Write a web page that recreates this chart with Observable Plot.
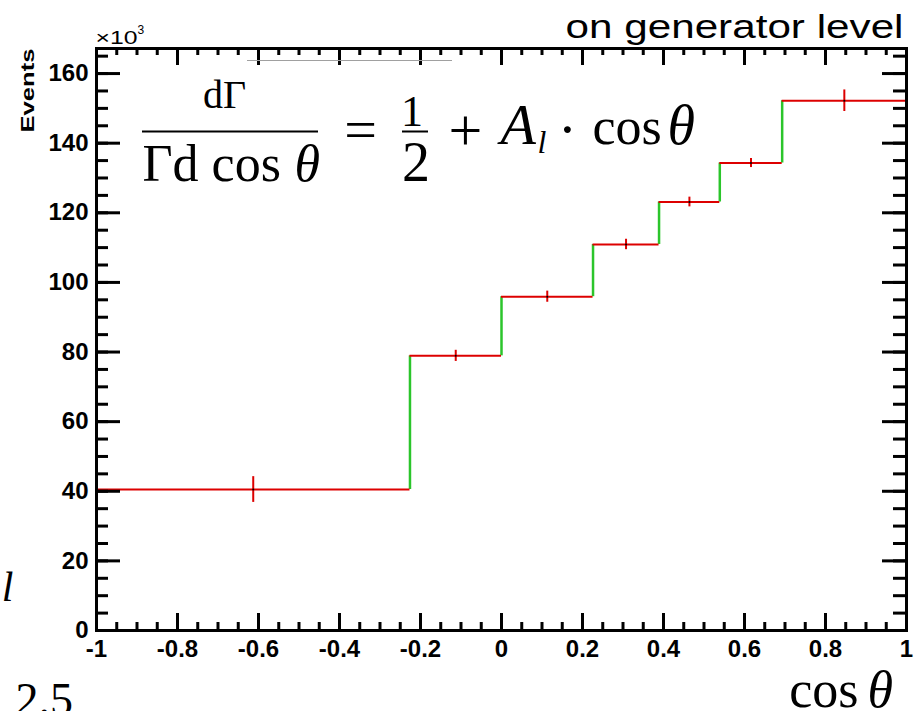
<!DOCTYPE html>
<html>
<head>
<meta charset="utf-8">
<script src="https://cdn.jsdelivr.net/npm/d3@7"></script>
<script src="https://cdn.jsdelivr.net/npm/@observablehq/plot@0.6"></script>
<style>
  html, body { margin: 0; padding: 0; background: #ffffff; overflow: hidden; }
</style>
</head>
<body>
<div id="chart"></div>
<script>
// ---- data (Events in units of 10^3) ----
const binEdges = [-1, -0.226, 0, 0.226, 0.389, 0.539, 0.693, 1];
const counts   = [40.5, 78.9, 95.9, 110.9, 123.1, 134.3, 152.2];
const errors   = [3.7, 1.6, 1.6, 1.5, 1.4, 1.3, 3.1];

const xTickValues = [-1, -0.8, -0.6, -0.4, -0.2, 0, 0.2, 0.4, 0.6, 0.8, 1];
const yTickValues = [0, 20, 40, 60, 80, 100, 120, 140, 160];
const xDomain = [-1, 1];
const yDomain = [0, 167.2];

// ---- derived tables ----
const bins = counts.map((c, i) => ({
  x1: binEdges[i], x2: binEdges[i + 1],
  xc: (binEdges[i] + binEdges[i + 1]) / 2,
  y: c, lo: c - errors[i], hi: c + errors[i]
}));
const risers = counts.slice(1).map((c, i) => ({x: binEdges[i + 1], y1: counts[i], y2: c}));
const xMinor = d3.range(-1, 1.0001, 0.05);
const yMinor = d3.range(0, yDomain[1], 5);

// ---- layout ----
const W = 914, H = 711, mL = 96, mR = 8, mT = 48, mB = 81;
const fW = W - mL - mR, fH = H - mT - mB;
const red = "#dd0000", green = "#2bc52b";
const serif = "Liberation Serif, Times New Roman, serif";
const sans = "Liberation Sans, Arial, sans-serif";

const fmtX = d => String(+d.toFixed(1));

const svg = Plot.plot({
  width: W, height: H,
  marginLeft: mL, marginRight: mR, marginTop: mT, marginBottom: mB,
  style: {fontFamily: sans, fontSize: "24px", fontWeight: "bold", color: "black", background: "white"},
  x: {domain: xDomain, ticks: xTickValues, tickSize: 0, tickPadding: 9, tickFormat: fmtX, label: null},
  y: {domain: yDomain, ticks: yTickValues, tickSize: 0, tickPadding: 8, tickFormat: d => String(d), label: null},
  marks: [
    // histogram: green risers, red bin tops, red error bars
    Plot.ruleX(risers, {x: "x", y1: "y1", y2: "y2", stroke: green, strokeWidth: 2.5}),
    Plot.ruleY(bins, {y: "y", x1: "x1", x2: "x2", stroke: red, strokeWidth: 2}),
    Plot.ruleX(bins, {x: "xc", y1: "lo", y2: "hi", stroke: red, strokeWidth: 2}),
    Plot.dot(bins, {x: "xc", y: "y", r: 1, fill: "black"}),

    // inward ticks on all four sides (ROOT style)
    Plot.tickX(xMinor, {x: d => d, insetTop: fH - 8, strokeWidth: 3}),
    Plot.tickX(xTickValues, {x: d => d, insetTop: fH - 17, strokeWidth: 3}),
    Plot.tickX(xMinor, {x: d => d, insetBottom: fH - 7, strokeWidth: 3}),
    Plot.tickX(xTickValues, {x: d => d, insetBottom: fH - 17, strokeWidth: 3}),
    Plot.tickY(yMinor, {y: d => d, insetRight: fW - 12, strokeWidth: 3}),
    Plot.tickY(yTickValues, {y: d => d, insetRight: fW - 24, strokeWidth: 3}),
    Plot.tickY(yMinor, {y: d => d, insetLeft: fW - 13, strokeWidth: 3}),
    Plot.tickY(yTickValues, {y: d => d, insetLeft: fW - 24, strokeWidth: 3}),
    Plot.frame({stroke: "black", strokeWidth: 3}),

    // axis annotations
    Plot.text(["×10"], {frameAnchor: "top-left", dx: -1, dy: -5, textAnchor: "start", lineAnchor: "bottom",
      fontFamily: sans, fontWeight: "normal", fontSize: 19}),
    Plot.text(["3"], {frameAnchor: "top-left", dx: 41, dy: -15, textAnchor: "start", lineAnchor: "bottom",
      fontFamily: sans, fontWeight: "normal", fontSize: 12}),
    Plot.text(["Events"], {frameAnchor: "top-left", dx: -62.5, dy: 0, rotate: -90, textAnchor: "end", lineAnchor: "bottom",
      fontFamily: sans, fontWeight: "bold", fontSize: 18}),
    Plot.text(["on generator level"], {frameAnchor: "top-right", dx: -3, dy: -11, textAnchor: "end", lineAnchor: "bottom",
      fontFamily: sans, fontWeight: "normal", fontSize: 33}),
    Plot.text(["cos"], {frameAnchor: "bottom-right", dx: -48, dy: 76, textAnchor: "end", lineAnchor: "bottom",
      fontFamily: serif, fontWeight: "normal", fontSize: 52}),
    Plot.text(["θ"], {frameAnchor: "bottom-right", dx: -39, dy: 76, textAnchor: "start", lineAnchor: "bottom",
      fontFamily: serif, fontWeight: "normal", fontStyle: "italic", fontSize: 52}),

    // formula  dΓ / (Γ d cosθ) = 1/2 + A_l · cosθ
    Plot.text(["dΓ"], {frameAnchor: "top-left", dx: 128, dy: 59, textAnchor: "middle", lineAnchor: "bottom",
      fontFamily: serif, fontWeight: "normal", fontSize: 40}),
    Plot.ruleY([0], {dy: -499, insetLeft: 46, insetRight: 588, stroke: "black", strokeWidth: 2}),
    Plot.text(["Γd cos"], {frameAnchor: "top-left", dx: 46, dy: 132, textAnchor: "start", lineAnchor: "bottom",
      fontFamily: serif, fontWeight: "normal", fontSize: 52}),
    Plot.text(["θ"], {frameAnchor: "top-left", dx: 198, dy: 132, textAnchor: "start", lineAnchor: "bottom",
      fontFamily: serif, fontWeight: "normal", fontStyle: "italic", fontSize: 52}),
    Plot.text(["="], {frameAnchor: "top-left", dx: 264, dy: 100, textAnchor: "middle", lineAnchor: "bottom",
      fontFamily: serif, fontWeight: "normal", fontSize: 58}),
    Plot.text(["1"], {frameAnchor: "top-left", dx: 315.5, dy: 77, textAnchor: "middle", lineAnchor: "bottom",
      fontFamily: serif, fontWeight: "normal", fontSize: 44}),
    Plot.ruleY([0], {dy: -499, insetLeft: 306, insetRight: 478, stroke: "black", strokeWidth: 2}),
    Plot.text(["2"], {frameAnchor: "top-left", dx: 319.5, dy: 132, textAnchor: "middle", lineAnchor: "bottom",
      fontFamily: serif, fontWeight: "normal", fontSize: 56}),
    Plot.text(["+"], {frameAnchor: "top-left", dx: 369, dy: 101, textAnchor: "middle", lineAnchor: "bottom",
      fontFamily: serif, fontWeight: "normal", fontSize: 60}),
    Plot.text(["A"], {frameAnchor: "top-left", dx: 404, dy: 95, textAnchor: "start", lineAnchor: "bottom",
      fontFamily: serif, fontWeight: "normal", fontStyle: "italic", fontSize: 58}),
    Plot.text(["l"], {frameAnchor: "top-left", dx: 441, dy: 104, textAnchor: "start", lineAnchor: "bottom",
      fontFamily: serif, fontWeight: "normal", fontStyle: "italic", fontSize: 32}),
    Plot.text(["·"], {frameAnchor: "top-left", dx: 471, dy: 100, textAnchor: "middle", lineAnchor: "bottom",
      fontFamily: serif, fontWeight: "normal", fontSize: 58}),
    Plot.text(["cos"], {frameAnchor: "top-left", dx: 496, dy: 95, textAnchor: "start", lineAnchor: "bottom",
      fontFamily: serif, fontWeight: "normal", fontSize: 52}),
    Plot.text(["θ"], {frameAnchor: "top-left", dx: 571, dy: 95, textAnchor: "start", lineAnchor: "bottom",
      fontFamily: serif, fontWeight: "normal", fontStyle: "italic", fontSize: 56}),

    // faint overlay line and clipped neighbouring text seen in the reference
    Plot.ruleY([0], {dy: -570, insetLeft: 151, insetRight: 454, stroke: "#a0a0a0", strokeWidth: 1}),
    Plot.text(["l"], {frameAnchor: "bottom-left", dx: -83, dy: -30, textAnchor: "end", lineAnchor: "bottom",
      fontFamily: serif, fontWeight: "normal", fontStyle: "italic", fontSize: 42}),
    Plot.text(["2.5"], {frameAnchor: "bottom-left", dx: -81, dy: 84, textAnchor: "start", lineAnchor: "bottom",
      fontFamily: serif, fontWeight: "normal", fontSize: 46})
  ]
});

// stretch a few ROOT-rendered labels to their measured widths
function fit(content, len) {
  for (const t of svg.querySelectorAll("text")) {
    if (t.textContent === content) {
      t.setAttribute("textLength", len);
      t.setAttribute("lengthAdjust", "spacingAndGlyphs");
    }
  }
}
fit("on generator level", 338);
fit("×10", 42);
fit("Events", 84);

document.getElementById("chart").appendChild(svg);
</script>
</body>
</html>
